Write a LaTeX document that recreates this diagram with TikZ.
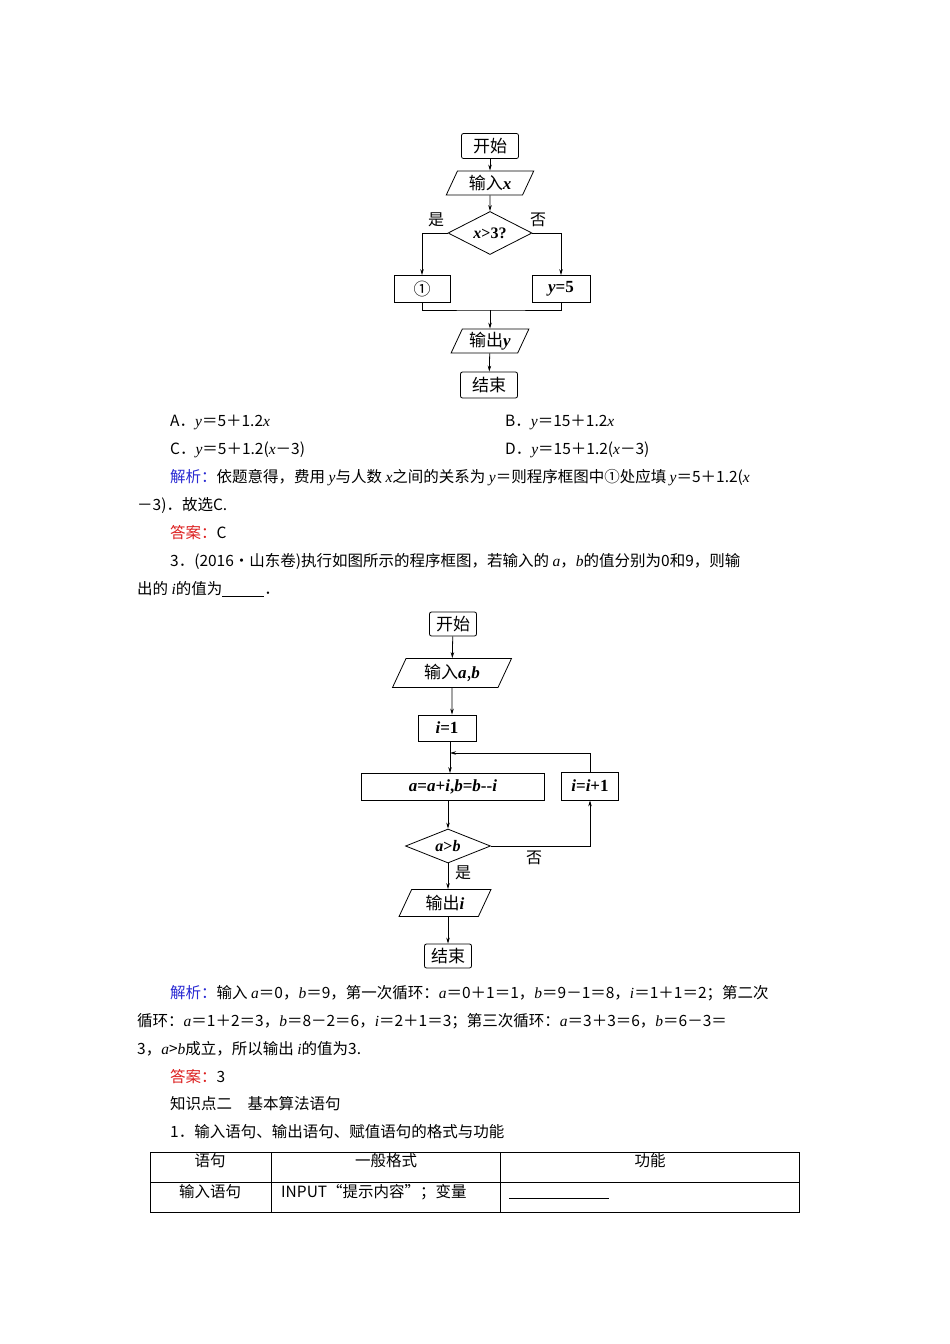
\documentclass[tikz,border=0pt]{standalone}
\usepackage{fontspec}
\setmainfont{Liberation Serif}
\newfontfamily\cjk{Noto Sans CJK SC}
\newfontfamily\lat{Liberation Serif}
\newcommand\mi[1]{{\lat\itshape #1}}
\newcommand\mb[1]{{\lat\bfseries\itshape #1}}
\usetikzlibrary{arrows.meta,shapes.geometric}
\definecolor{jx}{RGB}{40,40,210}
\definecolor{da}{RGB}{220,30,30}
\begin{document}
\begin{tikzpicture}[x=1pt,y=-1pt,
  txt/.style={anchor=west,inner sep=0pt,font=\cjk\fontsize{15.5}{16}\selectfont},
  fb/.style={draw,thick,rectangle,inner sep=0pt,font=\cjk\fontsize{17}{17}\selectfont},
  fr/.style={fb,rounded corners=2pt},
  fp/.style={draw,thick,trapezium,trapezium left angle=65,trapezium right angle=115,inner sep=0pt,font=\cjk\fontsize{17}{17}\selectfont},
  fd/.style={draw,thick,diamond,aspect=2.4,inner sep=0pt,font=\cjk\fontsize{16}{16}\selectfont},
  arr/.style={-{Stealth[length=6pt,width=3.5pt]},thick},
  ln/.style={thick}]
\useasboundingbox (0,0) rectangle (950,1344);
% flowchart 1
\node[fr,minimum width=57pt,minimum height=25pt] (s1) at (490,146) {开始};
\node[fp,minimum width=60pt,minimum height=24pt] (i1) at (490,183) {输入\mb{x}};
\node[fd,minimum width=84pt,minimum height=43pt] (d1) at (490,233) {\mb{x}{\lat\bfseries >3?}};
\node[fb,minimum width=56pt,minimum height=27pt] (b1) at (422,289) {①};
\node[fb,minimum width=58pt,minimum height=27pt] (b2) at (561,289) {\mb{y}{\lat\bfseries =5}};
\node[fp,minimum width=62pt,minimum height=24pt] (o1) at (490,341) {输出\mb{y}};
\node[fr,minimum width=57pt,minimum height=26pt] (e1) at (489,385) {结束};
\node[font=\cjk\fontsize{16}{16}\selectfont] (y1) at (436,220) {是};
\node[font=\cjk\fontsize{16}{16}\selectfont] (n1) at (538,220) {否};
\coordinate (j1) at (490,310);
\draw[arr] (s1)--(i1);
\draw[arr] (i1)--(d1);
\draw[arr] (d1.west) -| (b1.north);
\draw[arr] (d1.east) -| (b2.north);
\draw[ln] (b1.south) |- (j1) -| (b2.south);
\draw[arr] (j1)--(o1);
\draw[arr] (o1)--(e1);
% text block 1
\node[txt] (tA) at (170,422) {A．\mi{y}＝5＋1.2\mi{x}};
\node[txt] (tB) at (505,422) {B．\mi{y}＝15＋1.2\mi{x}};
\node[txt] (tC) at (170,450) {C．\mi{y}＝5＋1.2(\mi{x}－3)};
\node[txt] (tD) at (505,450) {D．\mi{y}＝15＋1.2(\mi{x}－3)};
\node[txt] (t1) at (170,478) {\textcolor{jx}{解析：}依题意得，费用 \mi{y}与人数 \mi{x}之间的关系为 \mi{y}＝则程序框图中①处应填 \mi{y}＝5＋1.2(\mi{x}};
\node[txt] (t2) at (137,506) {－3)．故选C.};
\node[txt] (t3) at (170,533) {\textcolor{da}{答案：}C};
\node[txt] (t4) at (170,561) {3．(2016·山东卷)执行如图所示的程序框图，若输入的 \mi{a}，\mi{b}的值分别为0和9，则输};
\node[txt] (t5) at (137,589) {出的 \mi{i}的值为\underline{\hspace{42pt}}．};
% flowchart 2
\node[fr,minimum width=47pt,minimum height=24pt] (s2) at (453,624) {开始};
\node[fp,minimum width=76pt,minimum height=29pt] (i2) at (452,673) {输入\mb{a},\mb{b}};
\node[fb,minimum width=58pt,minimum height=26pt] (a2) at (447,728) {\mb{i}{\lat\bfseries =1}};
\node[fb,minimum width=183pt,minimum height=27pt] (c2) at (453,787) {\mb{a}{\lat\bfseries =}\mb{a}{\lat\bfseries +}\mb{i}{\lat\bfseries ,}\mb{b}{\lat\bfseries =}\mb{b}{\lat\bfseries --}\mb{i}};
\node[fb,minimum width=57pt,minimum height=28pt] (p2) at (590,786) {\mb{i}{\lat\bfseries =}\mb{i}{\lat\bfseries +1}};
\node[fd,minimum width=85pt,minimum height=34pt,aspect=2.5] (d2) at (448,846) {\mb{a}{\lat\bfseries >}\mb{b}};
\node[fp,minimum width=70pt,minimum height=27pt] (o2) at (445,903) {输出\mb{i}};
\node[fr,minimum width=47pt,minimum height=24pt] (e2) at (448,956) {结束};
\node[font=\cjk\fontsize{16}{16}\selectfont] (n2) at (534,858) {否};
\node[font=\cjk\fontsize{16}{16}\selectfont] (y2) at (463,873) {是};
\coordinate (lp) at (450,753);
\draw[arr] (s2)--(i2);
\draw[arr] (i2)--(a2.north -| i2);
\draw[arr] (a2.south -| 450,0)--(c2.north -| 450,0);
\draw[arr] (p2.north) |- (lp);
\draw[arr] (c2.south -| 448,0)--(d2.north);
\draw[arr] (d2.east) -| (p2.south);
\draw[arr] (d2.south)--(o2.north -| d2.south);
\draw[arr] (o2.south -| e2.north)--(e2.north);
% text block 2
\node[txt] (u1) at (170,993) {\textcolor{jx}{解析：}输入 \mi{a}＝0，\mi{b}＝9，第一次循环：\mi{a}＝0＋1＝1，\mi{b}＝9－1＝8，\mi{i}＝1＋1＝2；第二次};
\node[txt] (u2) at (137,1021) {循环：\mi{a}＝1＋2＝3，\mi{b}＝8－2＝6，\mi{i}＝2＋1＝3；第三次循环：\mi{a}＝3＋3＝6，\mi{b}＝6－3＝};
\node[txt] (u3) at (137,1049) {3，\mi{a}>\mi{b}成立，所以输出 \mi{i}的值为3.};
\node[txt] (u4) at (170,1077) {\textcolor{da}{答案：}3};
\node[txt] (u5) at (170,1104) {知识点二\quad 基本算法语句};
\node[txt] (u6) at (170,1132) {1．输入语句、输出语句、赋值语句的格式与功能};
% table
\draw[thick] (150,1152) rectangle (799,1212);
\draw (150,1182)--(799,1182);
\draw (271,1152)--(271,1212);
\draw (500,1152)--(500,1212);
\node[txt,anchor=center] (h1) at (210,1161) {语句};
\node[txt,anchor=center] (h2) at (386,1161) {一般格式};
\node[txt,anchor=center] (h3) at (650,1161) {功能};
\node[txt,anchor=center] (r1) at (210,1192) {输入语句};
\node[txt] (r2) at (281,1192) {INPUT“提示内容”；变量};
\draw (509,1198)--(609,1198);
\end{tikzpicture}
\end{document}
